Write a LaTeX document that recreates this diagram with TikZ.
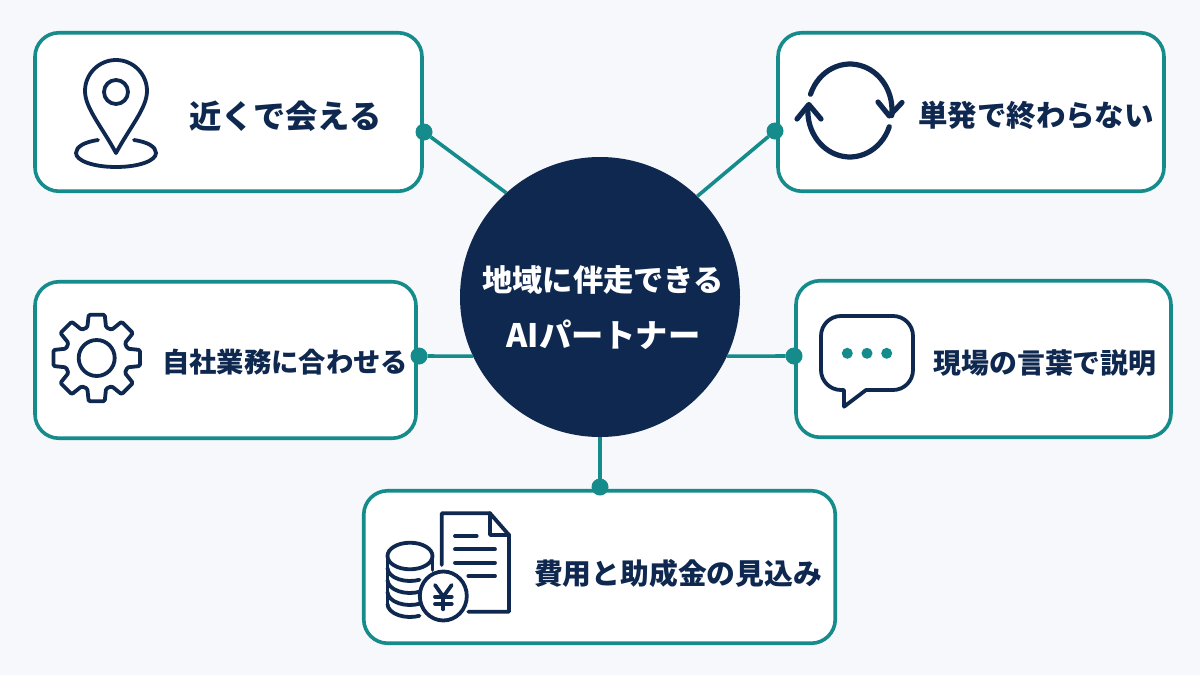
\documentclass[tikz,border=0pt]{standalone}
\usepackage{fontspec}
\newfontfamily\jp{Noto Sans CJK JP}
\definecolor{bgc}{HTML}{F6F8FB}
\definecolor{navy}{HTML}{0F2850}
\definecolor{teal2}{HTML}{168B8B}
\newcommand\tsize[1]{\fontsize{#1}{#1}\selectfont}
\tikzset{
  cardbox/.style={draw=teal2,fill=white,line width=3.6*0.75pt,rounded corners=18pt,outer sep=0pt,inner sep=0pt},
  joint/.style={circle,fill=teal2,draw=none,minimum size=17*0.75pt,inner sep=0pt,outer sep=0pt},
  link/.style={draw=teal2,line width=3.6*0.75pt},
  label/.style={text=navy,font=\jp\bfseries,inner sep=0pt,anchor=center},
  icon/.style={draw=navy,line width=3.8*0.75pt,line cap=round,line join=round},
  thick icon/.style={icon,line width=5.2*0.75pt},
  hubnode/.style={circle,fill=navy,draw=none,minimum size=280*0.75pt,inner sep=0pt,outer sep=0pt},
}
\begin{document}
\begin{tikzpicture}[x=0.75pt,y=-0.75pt]
\useasboundingbox (0,0) rectangle (1200,675);
\fill[bgc] (0,0) rectangle (1200,675);
% cards
\node[cardbox,minimum width=387*0.75pt,minimum height=158.5*0.75pt] (card1) at (228.5,112) {};
\node[cardbox,minimum width=386*0.75pt,minimum height=158.5*0.75pt] (card2) at (971,112) {};
\node[cardbox,minimum width=381*0.75pt,minimum height=156.5*0.75pt] (card3) at (225.5,360) {};
\node[cardbox,minimum width=375*0.75pt,minimum height=156.5*0.75pt] (card4) at (983.5,359) {};
\node[cardbox,minimum width=471.5*0.75pt,minimum height=152.5*0.75pt] (card5) at (599.5,567) {};
% hub
\node[hubnode,align=center] (hub) at (600,297) {};
% joints and connectors
\node[joint] (j1) at (424,132) {};
\node[joint] (j2) at (775,131) {};
\node[joint] (j3) at (419,356) {};
\node[joint] (j4) at (794,356) {};
\node[joint] (j5) at (600,487) {};
\draw[link] (j1) -- (hub.132);
\draw[link] (j2) -- (hub.46);
\draw[link] (j3) -- (hub.205);
\draw[link] (j4) -- (hub.-25);
\draw[link] (j5) -- (hub.south);
% texts
\node[label] (t1) at (285.5,116) {\tsize{24.2}近くで会える};
\node[label] (t2) at (1036,115) {\tsize{22.1}単発で終わらない};
\node[label] (t3) at (285,362) {\tsize{20.5}自社業務に合わせる};
\node[label] (t4) at (1045,363) {\tsize{20.9}現場の言葉で説明};
\node[label] (t5) at (678,574) {\tsize{21.6}費用と助成金の見込み};
\node[label,text=white] (h1) at (603,280) {\tsize{22.7}地域に伴走できる};
\node[label,text=white] (h2) at (603.5,335) {\tsize{24.2}AIパートナー};
% pin icon
\draw[icon] (116,153) .. controls (102,127) and (85,108) .. (85,91)
  arc[start angle=180,end angle=360,radius=31]
  .. controls (147,108) and (130,127) .. (116,153) -- cycle;
\draw[icon] (116,92) circle[radius=12];
\draw[icon] (98,140) .. controls (84,142) and (76,147) .. (76,153)
  .. controls (76,161) and (94,167) .. (116,167)
  .. controls (138,167) and (156,161) .. (156,153)
  .. controls (156,147) and (148,142) .. (134,140);
% gear icon
\draw[icon,rounded corners=1pt,shift={(96.7,358)}]
  (-17:32) \foreach \a in {0,45,...,315}{ -- (\a-17:32) -- (\a-10.5:44) -- (\a+10.5:44) -- (\a+17:32)} -- cycle;
\draw[icon] (96.7,358) circle[radius=18];
% refresh icon
\draw[thick icon] (810.5,94.3) arc[start angle=200,end angle=367,x radius=42,y radius=46];
\draw[thick icon] (878,102) -- (889.3,116) -- (902,102.5);
\draw[thick icon] (889.3,126.7) arc[start angle=20,end angle=186,x radius=42,y radius=46];
\draw[thick icon] (797,119) -- (808.8,104.5) -- (821,119);
% chat icon
\draw[icon] (844,390) -- (844,406.7) -- (866,390) -- (893,390)
  arc[start angle=90,end angle=0,radius=20] -- (913,336)
  arc[start angle=0,end angle=-90,radius=20] -- (841,316)
  arc[start angle=270,end angle=180,radius=20] -- (821,370)
  arc[start angle=180,end angle=90,radius=20] -- cycle;
\fill[teal2] (847.3,353.3) circle[radius=5.5];
\fill[teal2] (867,353.3) circle[radius=5.5];
\fill[teal2] (886.7,353.3) circle[radius=5.5];
% document icon
\draw[icon] (441.7,565) -- (441.7,513.3) -- (490,513.3) -- (509,535) -- (509,611.7) -- (468.3,611.7);
\draw[icon] (490,513.3) -- (490,535) -- (509,535);
\draw[icon] (455,536) -- (476.7,536);
\draw[icon] (455,549.3) -- (495,549.3);
\draw[icon] (455,562.7) -- (495,562.7);
\draw[icon] (468.3,576) -- (495,576);
% coins icon
\draw[icon] (410,556) ellipse[x radius=22.5,y radius=13.3];
\draw[icon] (387.5,556) -- (387.5,604);
\draw[icon] (432.5,556) -- (432.5,570);
\draw[icon] (387.5,568) arc[start angle=180,end angle=65,x radius=22.5,y radius=13];
\draw[icon] (387.5,580) arc[start angle=180,end angle=65,x radius=22.5,y radius=13];
\draw[icon] (387.5,592) arc[start angle=180,end angle=65,x radius=22.5,y radius=13];
\draw[icon] (387.5,604) arc[start angle=180,end angle=65,x radius=22.5,y radius=13];
\draw[icon,fill=white] (443.3,596) ellipse[x radius=23.5,y radius=24.5];
\draw[icon] (435,585) -- (443.3,596.7) -- (451.7,585);
\draw[icon] (443.3,596.7) -- (443.3,609.3);
\draw[icon] (435,596.7) -- (451.7,596.7);
\draw[icon] (435,604) -- (451.7,604);
\end{tikzpicture}
\end{document}
